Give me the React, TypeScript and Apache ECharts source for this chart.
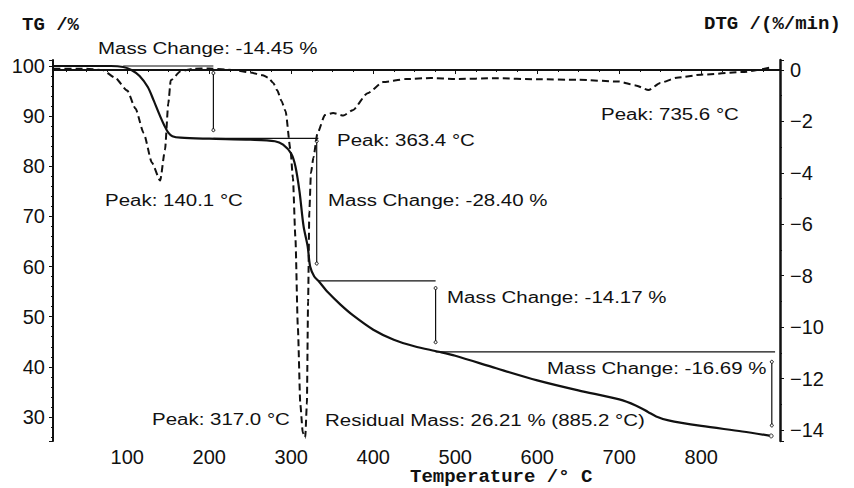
import React, { useEffect, useRef } from "react";
import * as echarts from "echarts";

// TG curve (solid), temperature in °C, mass in %
const tgTemps = [10, 50, 80, 95, 105, 115, 125, 132, 140, 145, 150, 155, 165, 200, 250, 280, 290, 300, 305, 310, 315, 320, 323, 328, 333, 345, 360, 375, 400, 425, 450, 480, 500, 550, 600, 650, 700, 720, 735, 745, 760, 800, 850, 885.2];
const tgValues = [100, 100, 100, 99.8, 99.2, 98, 95.8, 93.2, 90, 88.2, 86.7, 86, 85.7, 85.5, 85.3, 85, 84.3, 82.5, 80, 75, 68, 64, 60, 58, 57.15, 54.8, 52.4, 50.3, 47.4, 45.4, 44.1, 43, 42.2, 39.7, 37.3, 35.3, 33.5, 32.3, 31, 30.1, 29.3, 28.2, 27.1, 26.21];

// DTG curve (dashed), %/min
const dtgTemps = [10, 50, 70, 85, 100, 110, 120, 130, 140.1, 146, 150, 153, 165, 180, 200, 230, 250, 265, 272, 278, 283, 288, 293, 299, 302, 305, 308, 311, 314, 317, 319, 320.5, 322, 324, 327, 332, 341, 351, 363.4, 375, 393, 412, 440, 470, 500, 550, 600, 650, 700, 720, 735.6, 750, 770, 800, 850, 885];
const dtgValues = [0.05, 0.05, 0, -0.3, -0.8, -1.5, -2.45, -3.6, -4.3, -3.1, -1.3, -0.4, -0.05, 0.05, 0.06, 0, -0.1, -0.2, -0.3, -0.5, -0.8, -1.2, -1.6, -3.1, -4.2, -6.5, -10, -13, -14.1, -14.3, -13, -9, -5.5, -4, -3.4, -2.45, -1.75, -1.67, -1.77, -1.56, -0.9, -0.47, -0.35, -0.31, -0.35, -0.32, -0.36, -0.38, -0.45, -0.6, -0.78, -0.5, -0.3, -0.18, -0.08, 0.1];

// Mass change steps
const massChanges = [-14.45, -28.4, -14.17, -16.69];
const massLevels = [100, 85.55, 57.15, 42.98];
const stepStarts = [95, 205, 333, 476];
const stepEnds = [205, 333, 476, 890];
const stepTemps = [205, 331, 476, 886];
const stepTops = [98.6, 85, 55.7, 41];
const stepBottoms = [87.2, 60.6, 44.9, 28.3];

// Peaks and residual
const peakTemps = [140.1, 363.4, 735.6, 317.0];
const residualMass = 26.21;
const residualTemp = 885.2;

const SANS = "'Liberation Sans', Arial, sans-serif";
const MONO = "'Liberation Mono', 'DejaVu Sans Mono', monospace";

export default function App() {
  const ref = useRef<HTMLDivElement>(null);

  useEffect(() => {
    if (!ref.current) return;
    const chart = echarts.init(ref.current, undefined, { renderer: "svg" });

    const fmtPeak = (t: number) => `Peak: ${t.toFixed(1)} °C`;
    const fmtMass = (m: number) => `Mass Change: ${m.toFixed(2)} %`;

    const labels = [
      { text: fmtMass(massChanges[0]), x: 98, y: 48 },
      { text: fmtPeak(peakTemps[1]), x: 337, y: 140 },
      { text: fmtPeak(peakTemps[2]), x: 601, y: 114 },
      { text: fmtPeak(peakTemps[0]), x: 105, y: 200 },
      { text: fmtMass(massChanges[1]), x: 328, y: 200 },
      { text: fmtMass(massChanges[2]), x: 447, y: 297 },
      { text: fmtMass(massChanges[3]), x: 547, y: 368 },
      { text: fmtPeak(peakTemps[3]), x: 152, y: 419 },
      { text: `Residual Mass: ${residualMass.toFixed(2)} % (${residualTemp.toFixed(1)} °C)`, x: 325, y: 420 },
    ];

    const graphics: any[] = labels.map((l) => ({
      type: "text",
      x: l.x,
      y: l.y,
      scaleX: 1.28,
      silent: true,
      style: {
        text: l.text,
        fontFamily: SANS,
        fontSize: 16,
        fill: "#111",
        verticalAlign: "middle",
        align: "left",
      },
    }));
    const axisNames = [
      { text: "TG /%", x: 22, y: 25 },
      { text: "DTG /(%/min)", x: 704, y: 24 },
      { text: "Temperature /° C", x: 410, y: 477 },
    ];
    axisNames.forEach((a) =>
      graphics.push({
        type: "text",
        x: a.x,
        y: a.y,
        silent: true,
        style: {
          text: a.text,
          fontFamily: MONO,
          fontWeight: "bold",
          fontSize: 19,
          lineHeight: 17,
          fill: "#111",
          verticalAlign: "middle",
          align: "left",
        },
      })
    );

    const annoStyle = { color: "#111", width: 1.2 };
    const series: any[] = [
      {
        type: "line",
        name: "TG",
        xAxisIndex: 0,
        yAxisIndex: 0,
        data: tgTemps.map((t, i) => [t, tgValues[i]]),
        showSymbol: false,
        smooth: 0.3,
        lineStyle: { color: "#111", width: 2.2 },
        z: 5,
      },
      {
        type: "line",
        name: "DTG",
        xAxisIndex: 0,
        yAxisIndex: 1,
        data: dtgTemps.map((t, i) => [t, dtgValues[i]]),
        showSymbol: false,
        smooth: 0.2,
        smoothMonotone: "x",
        lineStyle: { color: "#111", width: 2, type: [7, 4] },
        z: 4,
      },
    ];
    massLevels.forEach((lv, i) => {
      series.push({
        type: "line",
        yAxisIndex: 0,
        data: [
          [stepStarts[i], lv],
          [stepEnds[i], lv],
        ],
        showSymbol: false,
        lineStyle: annoStyle,
        z: 3,
      });
      series.push({
        type: "line",
        yAxisIndex: 0,
        data: [
          [stepTemps[i], stepTops[i]],
          [stepTemps[i], stepBottoms[i]],
        ],
        symbol: "circle",
        symbolSize: 3,
        itemStyle: { color: "#fff", borderColor: "#111", borderWidth: 1 },
        lineStyle: annoStyle,
        z: 3,
      });
    });
    series.push({
      type: "scatter",
      yAxisIndex: 0,
      data: [[residualTemp, residualMass]],
      symbol: "circle",
      symbolSize: 4,
      itemStyle: { color: "#fff", borderColor: "#111", borderWidth: 1 },
      z: 6,
    });

    const labelStyle = { fontFamily: SANS, fontSize: 20, color: "#111", lineHeight: 18 };
    const neg = (v: number) => (v < 0 ? "−" + Math.abs(v) : String(v));

    chart.setOption({
      animation: false,
      backgroundColor: "#fff",
      grid: { left: 53, right: 74, top: 60, bottom: 47 },
      graphic: graphics,
      xAxis: {
        type: "value",
        min: 9.4,
        max: 896,
        splitNumber: 9,
        axisLine: { show: true, lineStyle: { color: "#111", width: 2 } },
        axisTick: { show: true, length: 4, lineStyle: { color: "#111" } },
        minorTick: { show: true, splitNumber: 4, length: 2, lineStyle: { color: "#111" } },
        splitLine: { show: false },
        axisLabel: {
          ...labelStyle,
          margin: 7,
          showMinLabel: false,
          showMaxLabel: false,
          formatter: (v: number) => (Math.abs(v % 100) < 1e-6 ? String(v) : ""),
        },
      },
      yAxis: [
        {
          type: "value",
          position: "left",
          min: 25.2,
          max: 101.2,
          splitNumber: 8,
          axisLine: { show: true, lineStyle: { color: "#111", width: 2 } },
          axisTick: { show: true, length: 4, lineStyle: { color: "#111" } },
          minorTick: { show: true, splitNumber: 5, length: 2, lineStyle: { color: "#111" } },
          splitLine: { show: false },
          axisLabel: {
            ...labelStyle,
            margin: 8,
            showMinLabel: false,
            showMaxLabel: false,
            formatter: (v: number) => (Math.abs(v % 10) < 1e-6 ? String(v) : ""),
          },
        },
        {
          type: "value",
          position: "right",
          min: -14.43,
          max: 0.39,
          splitNumber: 7,
          axisLine: { show: true, lineStyle: { color: "#111", width: 2.5 } },
          axisTick: { show: true, length: 4, lineStyle: { color: "#111" } },
          minorTick: { show: true, splitNumber: 2, length: 2, lineStyle: { color: "#111" } },
          splitLine: { show: false },
          axisLabel: {
            ...labelStyle,
            margin: 10,
            showMinLabel: false,
            showMaxLabel: false,
            formatter: (v: number) => (Math.abs(v % 2) < 1e-6 ? neg(v) : ""),
          },
        },
      ],
      series,
    });

    return () => chart.dispose();
  }, []);

  return <div ref={ref} style={{ width: 854, height: 488, position: "fixed", left: 0, top: 0, background: "#fff" }} />;
}
